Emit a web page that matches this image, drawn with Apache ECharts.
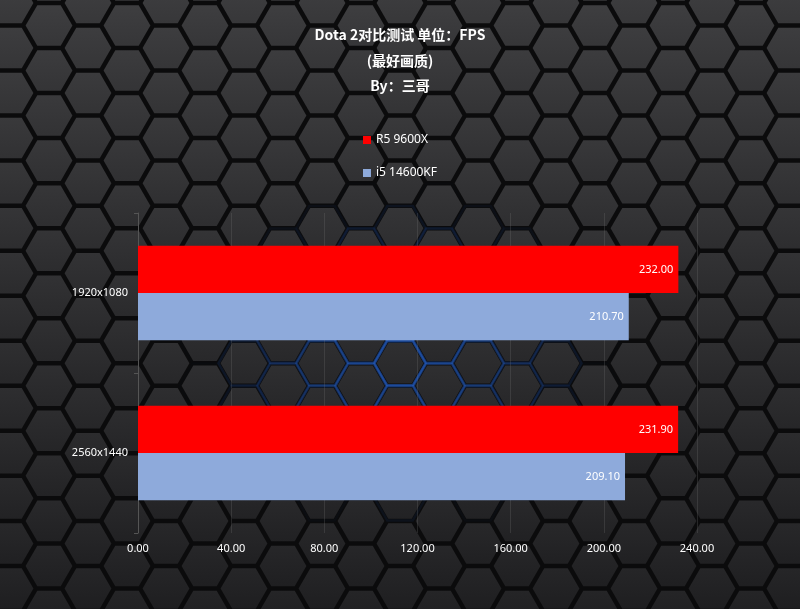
<!DOCTYPE html>
<html>
<head>
<meta charset="utf-8">
<script src="https://cdn.jsdelivr.net/npm/echarts@6/dist/echarts.min.js"></script>
<style>html,body{margin:0;padding:0;background:#222;}#c{width:800px;height:609px;}</style>
</head>
<body>
<div id="c"></div>
<script>
const categories = ['1920x1080', '2560x1440'];
const seriesNames = ['R5 9600X', 'i5 14600KF'];
const r5Values = [232.00, 231.90];
const i5Values = [210.70, 209.10];
const xTicks = { min: 0, max: 240, interval: 40 };

function makeBg() {
  const W = 800, H = 609;
  const cv = document.createElement('canvas');
  cv.width = W; cv.height = H;
  const ctx = cv.getContext('2d');
  ctx.fillStyle = '#0b0b0c';
  ctx.fillRect(0, 0, W, H);
  const R = 26, dx = 1.5 * R, dy = Math.sqrt(3) * R;
  const hexPath = (cx, cy, r) => {
    ctx.beginPath();
    for (let k = 0; k < 6; k++) {
      const a = Math.PI / 3 * k;
      const x = cx + r * Math.cos(a), y = cy + r * Math.sin(a);
      if (k === 0) ctx.moveTo(x, y); else ctx.lineTo(x, y);
    }
    ctx.closePath();
  };
  const cells = [];
  for (let i = -1; i * dx < W + R; i++) {
    for (let j = -1; j * dy < H + R; j++) {
      const cx = i * dx + 10;
      const cy = j * dy + (i % 2 ? dy / 2 : 0) + 3;
      cells.push([cx, cy]);
    }
  }
  cells.forEach(([cx, cy]) => {
    const ddx = (cx - 400) / 200, ddy = (cy - 360) / 160;
    const d = Math.sqrt(ddx * ddx + ddy * ddy);
    if (d < 1) {
      hexPath(cx, cy, R - 0.5);
      ctx.strokeStyle = 'rgba(35,95,200,' + (0.6 * (1 - d)).toFixed(3) + ')';
      ctx.lineWidth = 2.5;
      ctx.stroke();
    }
  });
  cells.forEach(([cx, cy]) => {
    hexPath(cx, cy, R - 2.6);
    const t = Math.min(1, Math.max(0, cy / H));
    const g = ctx.createLinearGradient(cx, cy - R, cx, cy + R);
    const base = Math.round(60 - 26 * t);
    g.addColorStop(0, 'rgb(' + (base + 4) + ',' + (base + 4) + ',' + (base + 6) + ')');
    g.addColorStop(1, 'rgb(' + (base - 6) + ',' + (base - 6) + ',' + (base - 4) + ')');
    ctx.fillStyle = g;
    ctx.fill();
  });
  return cv;
}

const chart = echarts.init(document.getElementById('c'), null, { renderer: 'canvas' });
const fmt = v => Number(v).toFixed(2);
chart.setOption({
  backgroundColor: { image: makeBg(), repeat: 'no-repeat' },
  animation: false,
  title: {
    text: 'Dota 2对比测试 单位：FPS\n(最好画质)\nBy：三哥',
    left: 'center',
    top: 17,
    textStyle: {
      color: '#ffffff', fontSize: 14, fontWeight: 'bold', lineHeight: 25.5,
      fontFamily: '"Noto Sans CJK SC", "Noto Sans", sans-serif'
    }
  },
  legend: {
    orient: 'vertical',
    left: 'center',
    top: 129,
    itemGap: 21,
    itemWidth: 8,
    itemHeight: 8,
    icon: 'rect',
    data: seriesNames,
    textStyle: { color: '#ffffff', fontSize: 12, fontFamily: '"Noto Sans", sans-serif' }
  },
  grid: { left: 138, right: 103, top: 213, bottom: 76, containLabel: false },
  xAxis: {
    type: 'value',
    min: xTicks.min, max: xTicks.max, interval: xTicks.interval,
    axisLine: { show: false },
    axisTick: { show: false },
    axisLabel: { color: '#ffffff', fontSize: 11, margin: 10, formatter: fmt, fontFamily: '"Noto Sans", sans-serif' },
    splitLine: { show: true, lineStyle: { color: 'rgba(120,120,120,0.25)', width: 1 } }
  },
  yAxis: {
    type: 'category',
    inverse: true,
    data: categories,
    axisLine: { show: true, lineStyle: { color: '#555555' } },
    axisTick: { show: true, length: 4, lineStyle: { color: '#555555' } },
    axisLabel: { color: '#ffffff', fontSize: 11, margin: 10, fontFamily: '"Noto Sans", sans-serif' },
    splitLine: { show: false }
  },
  series: [
    {
      name: seriesNames[0], type: 'bar', data: r5Values,
      barGap: '0%', barCategoryGap: '41%',
      itemStyle: { color: '#ff0000' },
      label: { show: true, position: 'insideRight', color: '#ffffff', fontSize: 11, formatter: p => fmt(p.value), fontFamily: '"Noto Sans", sans-serif' }
    },
    {
      name: seriesNames[1], type: 'bar', data: i5Values,
      barGap: '0%', barCategoryGap: '41%',
      itemStyle: { color: '#8eaadb' },
      label: { show: true, position: 'insideRight', color: '#ffffff', fontSize: 11, formatter: p => fmt(p.value), fontFamily: '"Noto Sans", sans-serif' }
    }
  ]
});
</script>
</body>
</html>
